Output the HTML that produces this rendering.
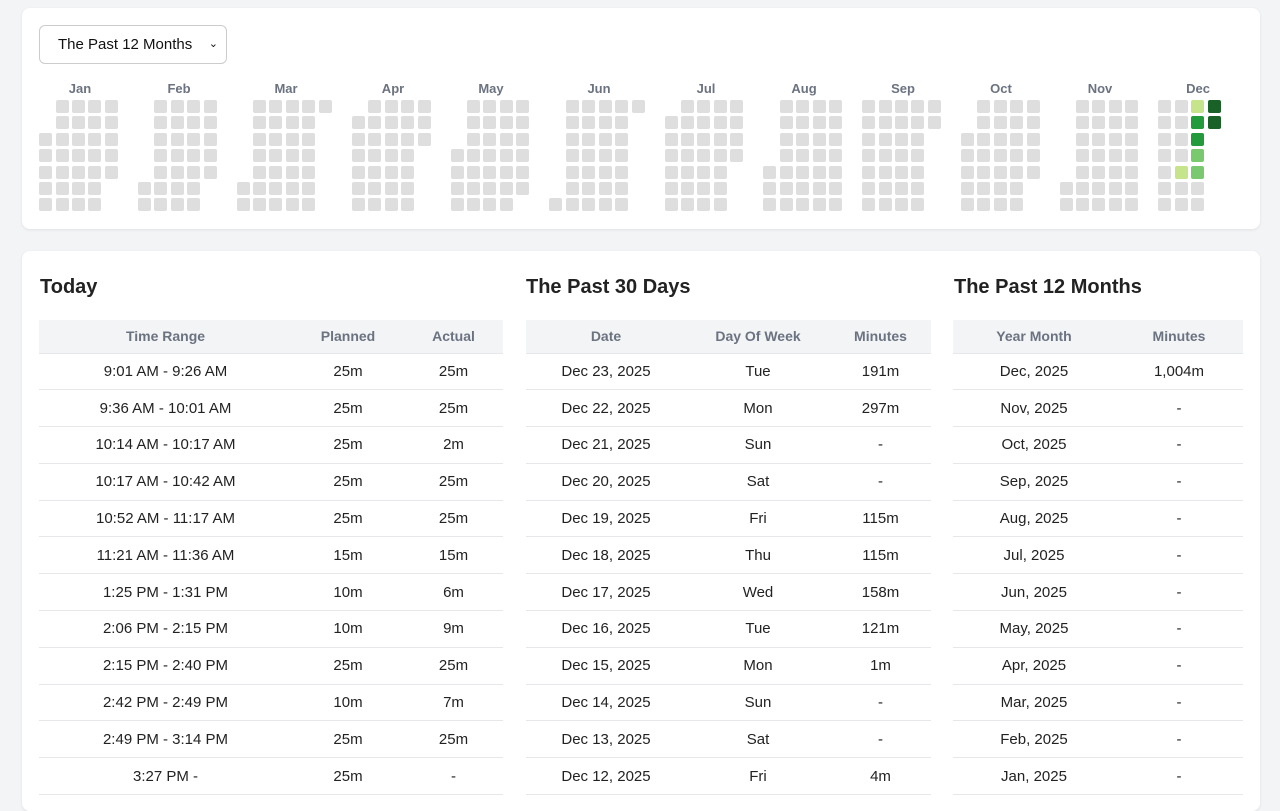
<!DOCTYPE html>
<html><head><meta charset="utf-8"><style>
*{box-sizing:border-box}
body{margin:0;width:1280px;height:800px;overflow:hidden;background:#f3f4f6;font-family:"Liberation Sans",Arial,sans-serif;color:#222}
.card{position:absolute;left:22px;width:1238px;background:#fff;border-radius:8px;box-shadow:0 1px 3px rgba(0,0,0,.08)}
.sel{position:absolute;left:17px;top:17px;width:188px;height:39px;border:1px solid #ccc;border-radius:6px;font-size:15px;line-height:37px;padding-left:18px;color:#111}
.sel span{position:absolute;right:8px;top:0;font-size:11px}
.ml{position:absolute;top:81px;font-size:13px;font-weight:bold;color:#6b7280;transform:translateX(-50%)}
.c{position:absolute;width:13px;height:13px;border-radius:2px;background:#dedede}
h2{position:absolute;top:276px;margin:0;font-size:20px;font-weight:bold;color:#222}
table{position:absolute;top:320px;border-collapse:collapse;font-size:15px}
th{background:#f3f4f6;color:#6b7280;font-size:14px;font-weight:bold;height:33px;border-bottom:1px solid #e5e7eb;padding:0}
td{height:36.8px;text-align:center;border-bottom:1px solid #e5e7eb;padding:0}
</style></head><body>
<div class="card" style="top:8px;height:221px">
<div class="sel">The Past 12 Months<span>&#8964;</span></div>
</div>
<div class="card" style="top:251px;height:560px"></div>
<h2 style="left:40px">Today</h2>
<h2 style="left:526px">The Past 30 Days</h2>
<h2 style="left:954px">The Past 12 Months</h2>
<table style="left:39px;width:464px">
<tr><th style="width:253px">Time Range</th><th style="width:112px">Planned</th><th>Actual</th></tr>
<tr><td>9:01 AM - 9:26 AM</td><td>25m</td><td>25m</td></tr>
<tr><td>9:36 AM - 10:01 AM</td><td>25m</td><td>25m</td></tr>
<tr><td>10:14 AM - 10:17 AM</td><td>25m</td><td>2m</td></tr>
<tr><td>10:17 AM - 10:42 AM</td><td>25m</td><td>25m</td></tr>
<tr><td>10:52 AM - 11:17 AM</td><td>25m</td><td>25m</td></tr>
<tr><td>11:21 AM - 11:36 AM</td><td>15m</td><td>15m</td></tr>
<tr><td>1:25 PM - 1:31 PM</td><td>10m</td><td>6m</td></tr>
<tr><td>2:06 PM - 2:15 PM</td><td>10m</td><td>9m</td></tr>
<tr><td>2:15 PM - 2:40 PM</td><td>25m</td><td>25m</td></tr>
<tr><td>2:42 PM - 2:49 PM</td><td>10m</td><td>7m</td></tr>
<tr><td>2:49 PM - 3:14 PM</td><td>25m</td><td>25m</td></tr>
<tr><td>3:27 PM -</td><td>25m</td><td>-</td></tr>
</table>
<table style="left:526px;width:405px">
<tr><th style="width:160px">Date</th><th style="width:144px">Day Of Week</th><th>Minutes</th></tr>
<tr><td>Dec 23, 2025</td><td>Tue</td><td>191m</td></tr>
<tr><td>Dec 22, 2025</td><td>Mon</td><td>297m</td></tr>
<tr><td>Dec 21, 2025</td><td>Sun</td><td>-</td></tr>
<tr><td>Dec 20, 2025</td><td>Sat</td><td>-</td></tr>
<tr><td>Dec 19, 2025</td><td>Fri</td><td>115m</td></tr>
<tr><td>Dec 18, 2025</td><td>Thu</td><td>115m</td></tr>
<tr><td>Dec 17, 2025</td><td>Wed</td><td>158m</td></tr>
<tr><td>Dec 16, 2025</td><td>Tue</td><td>121m</td></tr>
<tr><td>Dec 15, 2025</td><td>Mon</td><td>1m</td></tr>
<tr><td>Dec 14, 2025</td><td>Sun</td><td>-</td></tr>
<tr><td>Dec 13, 2025</td><td>Sat</td><td>-</td></tr>
<tr><td>Dec 12, 2025</td><td>Fri</td><td>4m</td></tr>
</table>
<table style="left:953px;width:290px">
<tr><th style="width:162px">Year Month</th><th>Minutes</th></tr>
<tr><td>Dec, 2025</td><td>1,004m</td></tr>
<tr><td>Nov, 2025</td><td>-</td></tr>
<tr><td>Oct, 2025</td><td>-</td></tr>
<tr><td>Sep, 2025</td><td>-</td></tr>
<tr><td>Aug, 2025</td><td>-</td></tr>
<tr><td>Jul, 2025</td><td>-</td></tr>
<tr><td>Jun, 2025</td><td>-</td></tr>
<tr><td>May, 2025</td><td>-</td></tr>
<tr><td>Apr, 2025</td><td>-</td></tr>
<tr><td>Mar, 2025</td><td>-</td></tr>
<tr><td>Feb, 2025</td><td>-</td></tr>
<tr><td>Jan, 2025</td><td>-</td></tr>
</table>
<div style="position:absolute;left:0;top:0">
<div class="ml" style="left:80px">Jan</div><div class="ml" style="left:179px">Feb</div><div class="ml" style="left:286px">Mar</div><div class="ml" style="left:393px">Apr</div><div class="ml" style="left:491px">May</div><div class="ml" style="left:599px">Jun</div><div class="ml" style="left:706px">Jul</div><div class="ml" style="left:804px">Aug</div><div class="ml" style="left:903px">Sep</div><div class="ml" style="left:1001px">Oct</div><div class="ml" style="left:1100px">Nov</div><div class="ml" style="left:1198px">Dec</div>
</div>
<div id="cells" style="position:absolute;left:0;top:0"></div>
<script>
(function(){
var out='',col=0,P=16.46;
var special={'11-15':'#c6e48b','11-16':'#239a3b','11-17':'#239a3b','11-18':'#7bc96f','11-19':'#7bc96f','11-12':'#c6e48b','11-22':'#196127','11-23':'#196127'};
for(var m=0;m<12;m++){
 var days=new Date(2025,m+1,0).getDate(); if(m==11)days=23;
 var c=col;
 for(var d=1;d<=days;d++){
  var wd=(new Date(2025,m,d).getDay()+6)%7;
  if(d>1&&wd==0)c++;
  var bg=special[m+'-'+d]||'#dedede';
  out+='<div class="c" style="left:'+(39+c*P).toFixed(1)+'px;top:'+(100+wd*16.4).toFixed(1)+'px;background:'+bg+'"></div>';
 }
 col=c+2;
}
document.getElementById('cells').innerHTML=out;
})();
</script>
</body></html>
